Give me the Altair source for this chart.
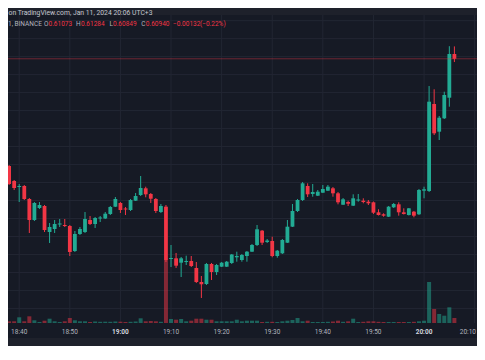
import altair as alt
import numpy as np
import pandas as pd

# ---------------- data ----------------
first_bar = "2024-01-11 18:36"   # 1-minute candles, 18:36 ... 20:06

opens = [0.58154, 0.57931, 0.57959, 0.57542, 0.57375, 0.57403, 0.57042, 0.56458, 0.56792, 0.56847,
         0.56124, 0.56208, 0.56333, 0.56319, 0.56291, 0.55596, 0.56069, 0.56124, 0.56458, 0.56347,
         0.56500, 0.56500, 0.56625, 0.56828,
         0.56931, 0.56778, 0.56736, 0.56995, 0.57153, 0.57339, 0.57181, 0.57042, 0.56680, 0.56828,
         0.55374, 0.55393, 0.55271, 0.55290, 0.55318, 0.55124, 0.54734, 0.54679, 0.55235, 0.55012,
         0.55160, 0.55160, 0.55263, 0.55421, 0.55346, 0.55457, 0.55577, 0.55763, 0.56161, 0.55846,
         0.55874, 0.55457, 0.55532, 0.55827, 0.56272, 0.56708, 0.57014, 0.57403, 0.57181, 0.57134,
         0.57217, 0.57273, 0.57339, 0.57200, 0.56883, 0.56958, 0.56856, 0.57000, 0.56995, 0.56967,
         0.56950, 0.56672, 0.56617, 0.56550, 0.56811, 0.56894, 0.56672, 0.56597, 0.56689, 0.56617,
         0.57273, 0.57264, 0.59683, 0.58913, 0.59285, 0.59858, 0.61073]
highs = [0.58209, 0.58043, 0.57987, 0.57570, 0.57459, 0.57431, 0.57070, 0.56958, 0.56958, 0.56875,
         0.56375, 0.56458, 0.56486, 0.56486, 0.56319, 0.56152, 0.56263, 0.56680, 0.56569, 0.56541,
         0.56569, 0.56680, 0.56847, 0.57097,
         0.56958, 0.56819, 0.57042, 0.57209, 0.57681, 0.57384, 0.57209, 0.57070, 0.56903, 0.56875,
         0.55763, 0.55541, 0.55429, 0.55466, 0.55457, 0.55290, 0.54901, 0.55263, 0.55263, 0.55235,
         0.55290, 0.55318, 0.55513, 0.55577, 0.55513, 0.55596, 0.55791, 0.56319, 0.56180, 0.55930,
         0.55994, 0.55624, 0.55930, 0.56458, 0.56903, 0.57042, 0.57514, 0.57478, 0.57459, 0.57292,
         0.57431, 0.57431, 0.57375, 0.57236, 0.57070, 0.56995, 0.57172, 0.57181, 0.57061, 0.57014,
         0.56972, 0.56756, 0.56644, 0.56847, 0.56931, 0.56950, 0.56783, 0.56792, 0.56708, 0.57320,
         0.57384, 0.60183, 0.60092, 0.59349, 0.60025, 0.61290, 0.61284]
lows = [0.57959, 0.57904, 0.57431, 0.57292, 0.56958, 0.57014, 0.56097, 0.56430, 0.56764, 0.56124,
        0.55819, 0.56097, 0.56263, 0.56263, 0.55457, 0.55568, 0.56041, 0.56097, 0.56319, 0.56236,
        0.56402, 0.56486, 0.56597, 0.56819,
        0.56653, 0.56597, 0.56708, 0.56986, 0.57125, 0.57089, 0.56931, 0.56653, 0.56653, 0.55290,
        0.55151, 0.55124, 0.54873, 0.55207, 0.55151, 0.54707, 0.54290, 0.54651, 0.54790, 0.54929,
        0.55151, 0.55151, 0.55235, 0.55299, 0.55299, 0.55299, 0.55568, 0.55735, 0.55763, 0.55819,
        0.55421, 0.55410, 0.55513, 0.55819, 0.56263, 0.56680, 0.56986, 0.57097, 0.57106, 0.57125,
        0.57209, 0.57264, 0.57106, 0.56894, 0.56875, 0.56847, 0.56847, 0.56967, 0.56922, 0.56875,
        0.56625, 0.56583, 0.56550, 0.56541, 0.56792, 0.56578, 0.56611, 0.56583, 0.56533, 0.56597,
        0.57061, 0.57236, 0.58821, 0.58682, 0.59266, 0.59608, 0.60849]
closes = [0.57987, 0.57987, 0.57459, 0.57348, 0.57403, 0.57042, 0.56458, 0.56931, 0.56875, 0.56180,
          0.56263, 0.56347, 0.56361, 0.56291, 0.55568, 0.56069, 0.56208, 0.56486, 0.56347, 0.56514,
          0.56528, 0.56633, 0.56819, 0.57042,
          0.56736, 0.56750, 0.57014, 0.57125, 0.57348, 0.57172, 0.57050, 0.56708, 0.56847, 0.55346,
          0.55402, 0.55188, 0.55393, 0.55318, 0.55179, 0.54734, 0.54671, 0.55235, 0.55012, 0.55207,
          0.55271, 0.55299, 0.55499, 0.55457, 0.55485, 0.55577, 0.55763, 0.56200, 0.55827, 0.55888,
          0.55457, 0.55605, 0.55902, 0.56272, 0.56708, 0.57014, 0.57478, 0.57172, 0.57236, 0.57245,
          0.57320, 0.57384, 0.57200, 0.56950, 0.57033, 0.56911, 0.57061, 0.57028, 0.56958, 0.56922,
          0.56661, 0.56597, 0.56578, 0.56828, 0.56903, 0.56672, 0.56625, 0.56783, 0.56578, 0.57292,
          0.57312, 0.59747, 0.58868, 0.59302, 0.59933, 0.61073, 0.60940]
volumes = [17, 17, 17, 17, 57, 17, 67, 27, 10, 23,
           43, 17, 10, 17, 50, 27, 17, 17, 10, 15,
           12, 13, 12, 15,
           13, 10, 12, 15, 47, 17, 20, 17, 12, 630,
           40, 33, 40, 17, 23, 43, 43, 33, 33, 17,
           17, 17, 17, 33, 17, 23, 23, 23, 10, 12,
           12, 10, 17, 23, 30, 50, 17, 23, 10, 10,
           10, 12, 15, 23, 12, 17, 43, 10, 12, 17,
           17, 12, 10, 10, 10, 10, 10, 10, 12, 17,
           23, 410, 140, 90, 73, 157, 50]

tick_labels = ["18:40", "18:50", "19:00", "19:10", "19:20", "19:30", "19:40", "19:50", "20:00", "20:10"]
price_grid = [0.535, 0.540, 0.545, 0.550, 0.555, 0.560, 0.565, 0.570, 0.575,
              0.580, 0.585, 0.590, 0.595, 0.600, 0.605, 0.610, 0.615, 0.620]
last_close = [0.60940]

view_time = [(18, 37, 47), (20, 10, 28)]
view_price = [0.52955, 0.62352]
vol_max = 3150

title_text = "on TradingView.com, Jan 11, 2024 20:06 UTC+3"
legend_plain = [("1, BINANCE", 0), ("O", 36), ("H", 68), ("L", 101.5), ("C", 133.3)]
legend_red = [("0.61073", 40.5), ("0.61284", 73), ("0.60849", 105), ("0.60940", 137.8),
              ("\u22120.00132", 165), ("(\u22120.22%)", 192)]

# ---------------- styling ----------------
W, H = 469, 338
BG = "#161a25"
BAND = "#1e212b"
GRID = "#222633"
UP = "#22ab94"
DOWN = "#f23645"
TXT = "#b2b5be"
FONT = "Roboto"
VOL_BASE = 315
LABEL_Y = 324


def dt(h, m, s=0):
    return alt.DateTime(year=2024, month=1, date=11, hours=h, minutes=m, seconds=s)


df = pd.DataFrame({
    "time": pd.date_range(first_bar, periods=len(opens), freq="min").strftime("%Y-%m-%dT%H:%M:%S"),
    "open": opens, "high": highs, "low": lows, "close": closes, "volume": volumes,
})
df["dir"] = np.where(df["close"] >= df["open"], "up", "down")

ticks_df = pd.DataFrame({"t": ["2024-01-11T" + s + ":00" for s in tick_labels], "label": tick_labels})

xs = alt.Scale(domain=[dt(*view_time[0]), dt(*view_time[1])], nice=False, padding=0)
ys = alt.Scale(domain=view_price, nice=False, zero=False)
vs = alt.Scale(domain=[0, vol_max], range=[VOL_BASE, 0], nice=False)
cs = alt.Scale(domain=["up", "down"], range=[UP, DOWN])

one = pd.DataFrame({"k": [0]})

hgrid = alt.Chart(pd.DataFrame({"p": price_grid})).mark_rule(color=GRID, strokeWidth=1).encode(
    y=alt.Y("p:Q", scale=ys, axis=None))
vgrid = alt.Chart(ticks_df).mark_rule(color=GRID, strokeWidth=1).encode(
    x=alt.X("t:T", scale=xs, axis=None))

vol = alt.Chart(df).mark_bar(size=4, opacity=0.5, clip=True).encode(
    x=alt.X("time:T", scale=xs, axis=None),
    y=alt.Y("volume:Q", scale=vs, axis=None, stack=None),
    color=alt.Color("dir:N", scale=cs, legend=None))
wick = alt.Chart(df).mark_rule(strokeWidth=1, clip=True).encode(
    x=alt.X("time:T", scale=xs, axis=None),
    y=alt.Y("low:Q", scale=ys, axis=None), y2="high:Q",
    color=alt.Color("dir:N", scale=cs, legend=None))
body = alt.Chart(df).mark_bar(size=3.8, clip=True).encode(
    x=alt.X("time:T", scale=xs, axis=None),
    y=alt.Y("open:Q", scale=ys, axis=None), y2="close:Q",
    color=alt.Color("dir:N", scale=cs, legend=None))
pline = alt.Chart(pd.DataFrame({"p": last_close})).mark_rule(
    color=DOWN, opacity=0.4, strokeWidth=1).encode(y=alt.Y("p:Q", scale=ys, axis=None))

header = alt.Chart(one).mark_rect(color=BAND).encode(
    x=alt.value(0), x2=alt.value(W), y=alt.value(0), y2=alt.value(7))
axis_bg = alt.Chart(one).mark_rect(color=BG).encode(
    x=alt.value(0), x2=alt.value(W), y=alt.value(VOL_BASE), y2=alt.value(330))
bottom = alt.Chart(one).mark_rect(color=BAND).encode(
    x=alt.value(0), x2=alt.value(W), y=alt.value(330), y2=alt.value(H))

last_label = tick_labels[-1]
is_hour = "indexof(datum.label, ':00') >= 0"
is_last = "datum.label === '" + last_label + "'"

# time labels drawn through the x scale (hour labels bold, as in the reference)
tlab = alt.Chart(ticks_df).transform_filter(
    "!(" + is_hour + ") && !(" + is_last + ")").mark_text(
    align="center", baseline="middle", font=FONT, fontSize=6.5, color=TXT).encode(
    x=alt.X("t:T", scale=xs, axis=None), y=alt.value(LABEL_Y), text="label:N")
tlab_last = alt.Chart(ticks_df).transform_filter(is_last).mark_text(
    align="right", baseline="middle", font=FONT, fontSize=6.5, color=TXT).encode(
    x=alt.value(W - 1), y=alt.value(LABEL_Y), text="label:N")
tlab_b = alt.Chart(ticks_df).transform_filter(is_hour).mark_text(
    align="center", baseline="middle", font=FONT, fontSize=6.5, fontWeight="bold",
    color="#d1d4dc").encode(
    x=alt.X("t:T", scale=xs, axis=None), y=alt.value(LABEL_Y), text="label:N")

texts = [alt.Chart(one).mark_text(align="left", baseline="middle", font=FONT, fontSize=6.8,
                                  color="#c3c6ce").encode(
    x=alt.value(0.5), y=alt.value(4.6), text=alt.value(title_text))]
for s, px in legend_plain:
    texts.append(alt.Chart(one).mark_text(align="left", baseline="middle", font=FONT, fontSize=6.5,
                                          color=TXT).encode(
        x=alt.value(px), y=alt.value(16), text=alt.value(s)))
for s, px in legend_red:
    texts.append(alt.Chart(one).mark_text(align="left", baseline="middle", font=FONT, fontSize=6.5,
                                          color=DOWN).encode(
        x=alt.value(px), y=alt.value(16), text=alt.value(s)))

chart = alt.layer(hgrid, vgrid, vol, wick, body, pline, header, axis_bg, bottom,
                  tlab, tlab_last, tlab_b, *texts).resolve_scale(
    y="independent"
).properties(
    width=W, height=H, background=BG, padding=0,
    autosize=alt.AutoSizeParams(type="none"),
).configure_view(stroke=None)

chart.save("out.html", embed_options={"renderer": "svg", "actions": False})
